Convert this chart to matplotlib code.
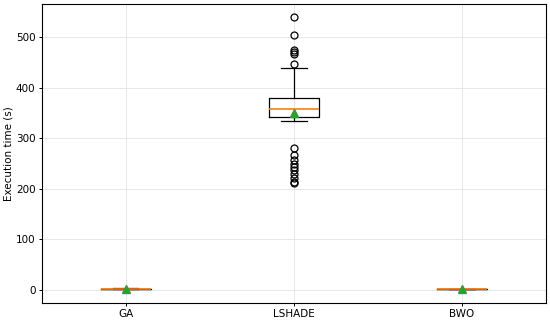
import matplotlib.pyplot as plt

labels = ["GA", "LSHADE", "BWO"]
medians = [1.5, 358, 0.9]
q1s = [1.2, 342, 0.7]
q3s = [1.9, 380, 1.2]
whislo = [0.8, 333, 0.4]
whishi = [2.6, 439, 1.8]
means = [1.6, 350, 1.0]
fliers = [
    [],
    [539, 504, 475, 471, 466, 446, 280, 266, 256, 249, 243, 236, 229, 222, 214, 211],
    [],
]

stats = []
for i in range(len(labels)):
    stats.append({
        "label": labels[i],
        "med": medians[i],
        "q1": q1s[i],
        "q3": q3s[i],
        "whislo": whislo[i],
        "whishi": whishi[i],
        "mean": means[i],
        "fliers": fliers[i],
    })

plt.rcParams["font.size"] = 7.5
fig, ax = plt.subplots(figsize=(5.5, 3.22), dpi=100)
fig.subplots_adjust(left=0.076, right=0.993, top=0.988, bottom=0.059)

ax.bxp(stats, showmeans=True, widths=0.3,
       boxprops=dict(linewidth=0.9),
       whiskerprops=dict(linewidth=0.9),
       capprops=dict(linewidth=0.9),
       medianprops=dict(color="#ff7f0e", linewidth=1.2),
       meanprops=dict(marker="^", markerfacecolor="#2ca02c", markeredgecolor="#2ca02c", markersize=6),
       flierprops=dict(marker="o", markerfacecolor="none", markeredgecolor="black", markersize=5, markeredgewidth=0.9))

ax.set_ylabel("Execution time (s)", labelpad=2)
ax.tick_params(length=2.5, width=0.7, pad=2)
ax.grid(True, color="#e3e3e3", linewidth=0.6)
ax.set_axisbelow(True)
for s in ax.spines.values():
    s.set_linewidth(0.8)

fig.savefig("out.png")
